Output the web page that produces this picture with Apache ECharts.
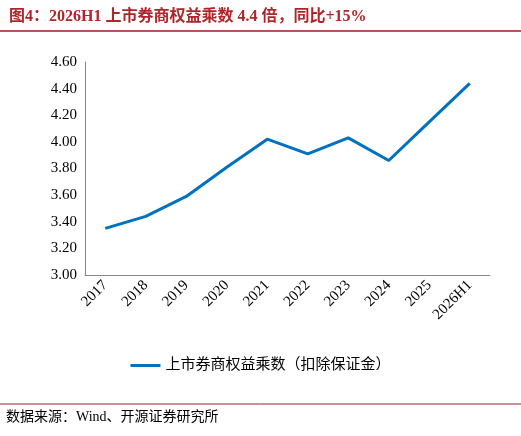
<!DOCTYPE html>
<html><head><meta charset="utf-8">
<script src="https://cdn.jsdelivr.net/npm/echarts@6/dist/echarts.min.js"></script>
<style>html,body{margin:0;padding:0;background:#fff}#c{width:521px;height:436px}</style>
</head><body><div id="c"></div>
<script>
const categories = ['2017','2018','2019','2020','2021','2022','2023','2024','2025','2026H1'];
const values = [3.35,3.44,3.59,3.81,4.02,3.91,4.03,3.86,4.15,4.44];
const seriesName = '上市券商权益乘数（扣除保证金）';
const font = '"Liberation Serif","Noto Sans CJK SC",serif';
const chart = echarts.init(document.getElementById('c'));
chart.setOption({
  animation:false,
  textStyle:{fontFamily:font},
  title:{text:'图4：2026H1 上市券商权益乘数 4.4 倍，同比+15%',left:4,top:4,
    textStyle:{color:'#b0252a',fontSize:16,fontWeight:'bold',fontFamily:font}},
  graphic:[
    {type:'line',shape:{x1:0,y1:31,x2:521,y2:31},style:{stroke:'#9a1e22',lineWidth:1.5}},
    {type:'line',shape:{x1:0,y1:404,x2:521,y2:404},style:{stroke:'#9a1e22',lineWidth:1}},
    {type:'text',left:6,top:410,style:{text:'数据来源：Wind、开源证券研究所',fontSize:14,fill:'#000',fontFamily:font}}
  ],
  legend:{bottom:58,left:'center',itemWidth:30,icon:'rect',itemHeight:3,
    textStyle:{fontSize:15,color:'#000',fontFamily:font}},
  grid:{left:85,right:31,top:62,bottom:161},
  xAxis:{type:'category',data:categories,boundaryGap:true,
    axisLine:{lineStyle:{color:'#888'}},axisTick:{show:false},
    axisLabel:{rotate:45,color:'#000',fontSize:15,fontFamily:font,margin:8}},
  yAxis:{type:'value',min:3,max:4.6,interval:0.2,
    axisLine:{show:true,lineStyle:{color:'#888'}},axisTick:{show:false},splitLine:{show:false},
    axisLabel:{formatter:v=>v.toFixed(2),color:'#000',fontSize:15,fontFamily:font}},
  series:[{name:seriesName,type:'line',data:values,symbol:'none',
    lineStyle:{color:'#0070c0',width:3},itemStyle:{color:'#0070c0'}}]
});
</script></body></html>
